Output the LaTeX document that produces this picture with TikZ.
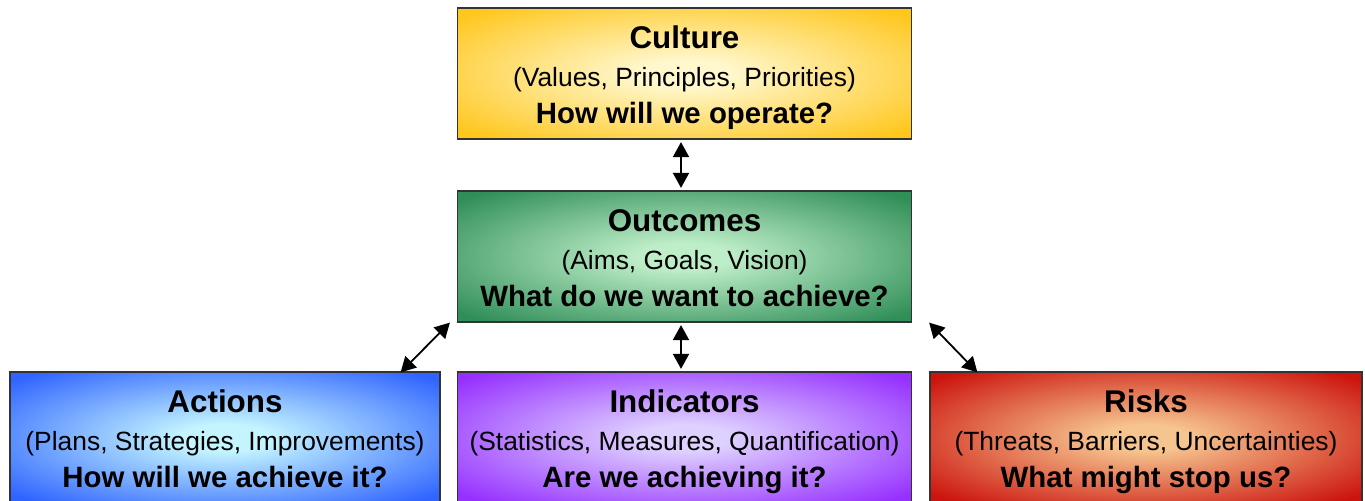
\documentclass[tikz,border=0pt]{standalone}
\usepackage{fontspec}
\setmainfont{Liberation Sans}
\usetikzlibrary{arrows.meta}

% box fill colours: light centre, strong edge
\definecolor{culturein}{RGB}{255,248,205}
\definecolor{cultureout}{RGB}{255,198,28}
\definecolor{outcomein}{RGB}{190,238,200}
\definecolor{outcomeout}{RGB}{48,142,88}
\definecolor{actionin}{RGB}{196,245,255}
\definecolor{actionout}{RGB}{48,100,255}
\definecolor{indicatorin}{RGB}{222,208,255}
\definecolor{indicatorout}{RGB}{150,48,255}
\definecolor{riskin}{RGB}{246,196,142}
\definecolor{riskout}{RGB}{204,20,14}

\colorlet{glowin}{white}
\colorlet{glowout}{black}
\pgfdeclareradialshading[glowin,glowout]{glow}{\pgfpoint{0bp}{0bp}}%
  {color(0bp)=(glowin); color(5bp)=(glowin); color(33bp)=(glowout); color(50bp)=(glowout)}

\tikzset{
  box/.style 2 args={rectangle, draw=black!80, line width=1.2bp, inner sep=0pt,
    minimum height=131bp, shade, shading=glow,
    /utils/exec={\colorlet{glowin}{#1}\colorlet{glowout}{#2}}},
  titletext/.style={anchor=base, inner sep=0pt, font=\bfseries\fontsize{31.5}{37}\selectfont},
  subtext/.style={anchor=base, inner sep=0pt, font=\fontsize{26.5}{37}\selectfont},
  asktext/.style={anchor=base, inner sep=0pt, font=\bfseries\fontsize{29.5}{37}\selectfont},
  link/.style={line width=1.8bp, {Triangle[length=15bp,width=16bp]}-{Triangle[length=15bp,width=16bp]},
    shorten <=2.5bp, shorten >=2.5bp}
}

% three lines of text hung from the top edge of a box
\newcommand{\boxtext}[4]{%
  \node[titletext] (#1-title) at ([yshift=-41.5bp]#1.north) {#2};
  \node[subtext] (#1-sub) at ([yshift=-79bp]#1.north) {#3};
  \node[asktext] (#1-ask) at ([yshift=-116bp]#1.north) {#4};
}

\begin{document}
\begin{tikzpicture}[x=1bp,y=1bp]
    \useasboundingbox (0,0) rectangle (1365,501);
    \clip (0,0) rectangle (1365,501);

    \node[box={culturein}{cultureout}, minimum width=454bp] (culture) at (684.5,427.5) {};
    \node[box={outcomein}{outcomeout}, minimum width=454bp] (outcomes) at (684.5,244.5) {};
    \node[box={actionin}{actionout}, minimum width=430bp] (actions) at (225,63.5) {};
    \node[box={indicatorin}{indicatorout}, minimum width=454bp] (indicators) at (684.5,63.5) {};
    \node[box={riskin}{riskout}, minimum width=432bp] (risks) at (1146,63.5) {};

    \boxtext{culture}{Culture}{(Values, Principles, Priorities)}{How will we operate?}
    \boxtext{outcomes}{Outcomes}{(Aims, Goals, Vision)}{What do we want to achieve?}
    \boxtext{actions}{Actions}{(Plans, Strategies, Improvements)}{How will we achieve it?}
    \boxtext{indicators}{Indicators}{(Statistics, Measures, Quantification)}{Are we achieving it?}
    \boxtext{risks}{Risks}{(Threats, Barriers, Uncertainties)}{What might stop us?}

    \draw[link] ([xshift=-3.5bp]culture.south) -- ([xshift=-3.5bp]outcomes.north);
    \draw[link] ([xshift=-3.5bp]outcomes.south) -- ([xshift=-3.5bp]indicators.north);
    \draw[link,shorten <=0pt,shorten >=0pt] ([xshift=-7bp]outcomes.south west) -- ([xshift=-40bp,yshift=-1bp]actions.north east);
    \draw[link,shorten <=0pt,shorten >=0pt] ([xshift=17bp]outcomes.south east) -- ([xshift=48bp,yshift=-1bp]risks.north west);
\end{tikzpicture}
\end{document}
